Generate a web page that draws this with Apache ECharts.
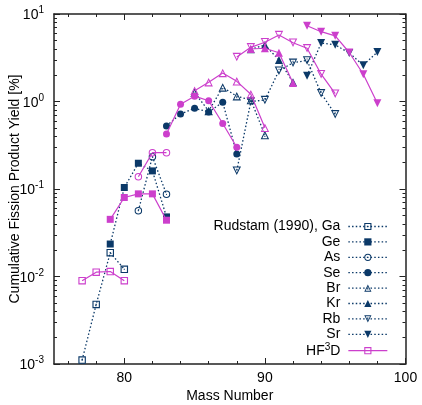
<!DOCTYPE html>
<html><head><meta charset="utf-8">
<script src="https://cdn.jsdelivr.net/npm/echarts@6/dist/echarts.min.js"></script>
<style>html,body{margin:0;padding:0;background:#fff}#c{width:422px;height:405px}</style>
</head><body><div id="c"></div>
<script>
// ---- data ----
const elements = ['Ga', 'Ge', 'As', 'Se', 'Br', 'Kr', 'Rb', 'Sr'];
const massGa = [77, 78, 79, 80];
const rudstamGa = [0.00111, 0.0048, 0.0187, 0.0121];
const hf3dGa = [0.00895, 0.0112, 0.0114, 0.00895];
const massGe = [79, 80, 81, 82, 83];
const rudstamGe = [0.0235, 0.104, 0.197, 0.161, 0.048];
const hf3dGe = [0.045, 0.080, 0.088, 0.088, 0.044];
const massAs = [81, 82, 83];
const rudstamAs = [0.0565, 0.234, 0.087];
const hf3dAs = [0.138, 0.26, 0.26];
const massSe = [83, 84, 85, 86, 87, 88];
const rudstamSe = [0.525, 0.72, 0.836, 0.76, 0.98, 0.251];
const hf3dSe = [0.425, 0.93, 1.15, 1.02, 0.56, 0.30];
const massBr = [85, 86, 87, 88, 89, 90];
const rudstamBr = [1.26, 0.78, 1.45, 1.15, 1.04, 0.414];
const hf3dBr = [1.33, 1.66, 2.12, 1.70, 1.21, 0.50];
const massKr = [89, 90, 91, 92];
const rudstamKr = [3.95, 4.43, 2.98, 1.66];
const hf3dKr = [3.98, 4.06, 3.61, 1.63];
const massRb = [88, 89, 90, 91, 92, 93, 94, 95];
const rudstamRb = [0.162, 1.0, 1.04, 2.25, 2.77, 2.95, 1.24, 0.714];
const hf3dRb = [3.22, 4.16, 4.76, 5.75, 4.70, 4.06, 2.05, 1.23];
const massSr = [93, 94, 95, 96, 97, 98];
const rudstamSr = [1.97, 4.65, 4.45, 3.58, 2.60, 3.68];
const hf3dSr = [7.35, 6.28, 5.63, 3.63, 2.05, 0.954];

const xMajorTicks = [80, 90, 100];
const xMinorTicks = [76, 78, 82, 84, 86, 88, 92, 94, 96, 98];
const yDecades = [-3, -2, -1, 0];
const yMinorMultipliers = [2, 3, 4, 5, 6, 7, 8, 9];
const legendNames = ['Rudstam (1990), Ga', 'Ge', 'As', 'Se', 'Br', 'Kr', 'Rb', 'Sr', 'HF3D'];

// ---- styling ----
const NAVY = '#0b3968';
const MAG = '#cc3fcc';
const FONT = '"Liberation Sans", Arial, sans-serif';
const AX = '#222';

const P_SQ_DOT = 'path://M0,0H10V10H0Z M1.5,1.5V8.5H8.5V1.5Z M4.2,4.2H5.8V5.8H4.2Z';
const P_SQ = 'path://M0,0H10V10H0Z M1.5,1.5V8.5H8.5V1.5Z';
const P_CI_DOT = 'path://M5,0A5,5,0,1,1,5,10A5,5,0,1,1,5,0Z M5,1.4A3.6,3.6,0,1,0,5,8.6A3.6,3.6,0,1,0,5,1.4Z M5,4.2A0.8,0.8,0,1,1,5,5.8A0.8,0.8,0,1,1,5,4.2Z';
const P_CI = 'path://M5,0A5,5,0,1,1,5,10A5,5,0,1,1,5,0Z M5,1.4A3.6,3.6,0,1,0,5,8.6A3.6,3.6,0,1,0,5,1.4Z';
const P_TR_DOT = 'path://M5,0L10,9L0,9Z M5,2.4L2,7.8L8,7.8Z M4.4,5.4H5.6V6.6H4.4Z';
const P_TR = 'path://M5,0L10,9L0,9Z M5,2.4L2,7.8L8,7.8Z';

const navySym = {
  Ga: [P_SQ_DOT, 7.5, 0], Ge: ['rect', 7, 0], As: [P_CI_DOT, 7.5, 0], Se: ['circle', 7, 0],
  Br: [P_TR_DOT, 8.5, 0], Kr: ['triangle', 8, 0], Rb: [P_TR_DOT, 8.5, 180], Sr: ['triangle', 8, 180]
};
const magSym = {
  Ga: [P_SQ, 7.5, 0], Ge: ['rect', 7, 0], As: [P_CI, 7.5, 0], Se: ['circle', 7, 0],
  Br: [P_TR, 8.5, 0], Kr: ['triangle', 8, 0], Rb: [P_TR, 8.5, 180], Sr: ['triangle', 8, 180]
};
const dataSets = {
  Ga: [massGa, rudstamGa, hf3dGa], Ge: [massGe, rudstamGe, hf3dGe], As: [massAs, rudstamAs, hf3dAs],
  Se: [massSe, rudstamSe, hf3dSe], Br: [massBr, rudstamBr, hf3dBr], Kr: [massKr, rudstamKr, hf3dKr],
  Rb: [massRb, rudstamRb, hf3dRb], Sr: [massSr, rudstamSr, hf3dSr]
};
const pair = (m, v) => m.map((x, i) => [x, v[i]]);

const series = [];
elements.forEach((el, i) => {
  const [m, r] = dataSets[el];
  const s = navySym[el];
  series.push({
    name: legendNames[i], type: 'line', data: pair(m, r),
    symbol: s[0], symbolSize: s[1], symbolRotate: s[2],
    itemStyle: { color: NAVY },
    lineStyle: { color: NAVY, width: 1.3, type: [1.5, 2.2] },
    z: 2, animation: false
  });
});
elements.forEach((el) => {
  const [m, , h] = dataSets[el];
  const s = magSym[el];
  series.push({
    name: el === 'Ga' ? 'HF3D' : 'HF3D ' + el, type: 'line', data: pair(m, h),
    symbol: s[0], symbolSize: s[1], symbolRotate: s[2],
    itemStyle: { color: MAG },
    lineStyle: { color: MAG, width: 1.2 },
    z: 3, animation: false
  });
});

const yMinorLog = [];
yDecades.forEach(d => yMinorMultipliers.forEach(k => yMinorLog.push(d + Math.log10(k))));

const baseX = (pos, ticks, len, showLine, labels) => ({
  type: 'value', min: 75, max: 100, position: pos,
  axisLine: { show: showLine, onZero: false, lineStyle: { color: AX, width: 1.5 } },
  axisTick: { show: true, inside: true, length: len, customValues: ticks, lineStyle: { color: AX, width: 1 } },
  axisLabel: labels ? { show: true, customValues: ticks, color: '#000', fontSize: 14, fontFamily: FONT, margin: 7 } : { show: false },
  splitLine: { show: false }
});
const xAxes = [
  Object.assign(baseX('bottom', xMajorTicks, 6, true, true), {
    name: 'Mass Number', nameLocation: 'middle', nameGap: 25, nameMoveOverlap: false,
    nameTextStyle: { color: '#000', fontSize: 14, fontFamily: FONT }
  }),
  baseX('bottom', xMinorTicks, 3, false, false),
  baseX('top', xMajorTicks, 6, true, false),
  baseX('top', xMinorTicks, 3, false, false)
];

const logY = (pos, labels) => ({
  type: 'log', logBase: 10, min: 0.001, max: 10, position: pos,
  axisLine: { show: true, onZero: false, lineStyle: { color: AX, width: 1.5 } },
  axisTick: { show: true, inside: true, length: 6, lineStyle: { color: AX, width: 1 } },
  axisLabel: labels ? {
    show: true, margin: 10,
    formatter: v => '{m|10}{s|' + Math.round(Math.log10(v)) + '}',
    rich: {
      m: { fontSize: 14, fontFamily: FONT, color: '#000', padding: [3, 0, 0, 0] },
      s: { fontSize: 10, fontFamily: FONT, color: '#000', verticalAlign: 'top' }
    }
  } : { show: false },
  splitLine: { show: false }
});
const minorY = (pos) => ({
  type: 'value', min: -3, max: 1, position: pos,
  axisLine: { show: false, onZero: false },
  axisTick: { show: true, inside: true, length: 3, customValues: yMinorLog, lineStyle: { color: AX, width: 1 } },
  axisLabel: { show: false }, splitLine: { show: false }
});
const yAxes = [
  Object.assign(logY('left', true), {
    name: 'Cumulative Fission Product Yield [%]', nameLocation: 'middle', nameGap: 32, nameRotate: 90,
    nameMoveOverlap: false,
    nameTextStyle: { color: '#000', fontSize: 14, fontFamily: FONT }
  }),
  minorY('left'),
  logY('right', false),
  minorY('right')
];

const chart = echarts.init(document.getElementById('c'), null, { renderer: 'canvas' });
chart.setOption({
  backgroundColor: '#fff',
  animation: false,
  grid: { left: 54, right: 16.5, top: 14, bottom: 41, containLabel: false, outerBoundsMode: 'none' },
  xAxis: xAxes,
  yAxis: yAxes,
  legend: {
    orient: 'vertical', right: 34, top: 219.5, height: 180, align: 'right', padding: 0,
    itemWidth: 39, itemHeight: 9, itemGap: 1.4,
    data: legendNames,
    lineStyle: { width: 1.3 },
    selectedMode: false,
    formatter: n => n === 'HF3D' ? 'HF{s|3}D' : n,
    textStyle: {
      color: '#000', fontSize: 14, fontFamily: FONT, padding: [0, 3, 0, 0],
      rich: { s: { fontSize: 10, fontFamily: FONT, color: '#000', verticalAlign: 'top', padding: [0, 0, 6, 0] } }
    }
  },
  series: series
});
</script></body></html>
